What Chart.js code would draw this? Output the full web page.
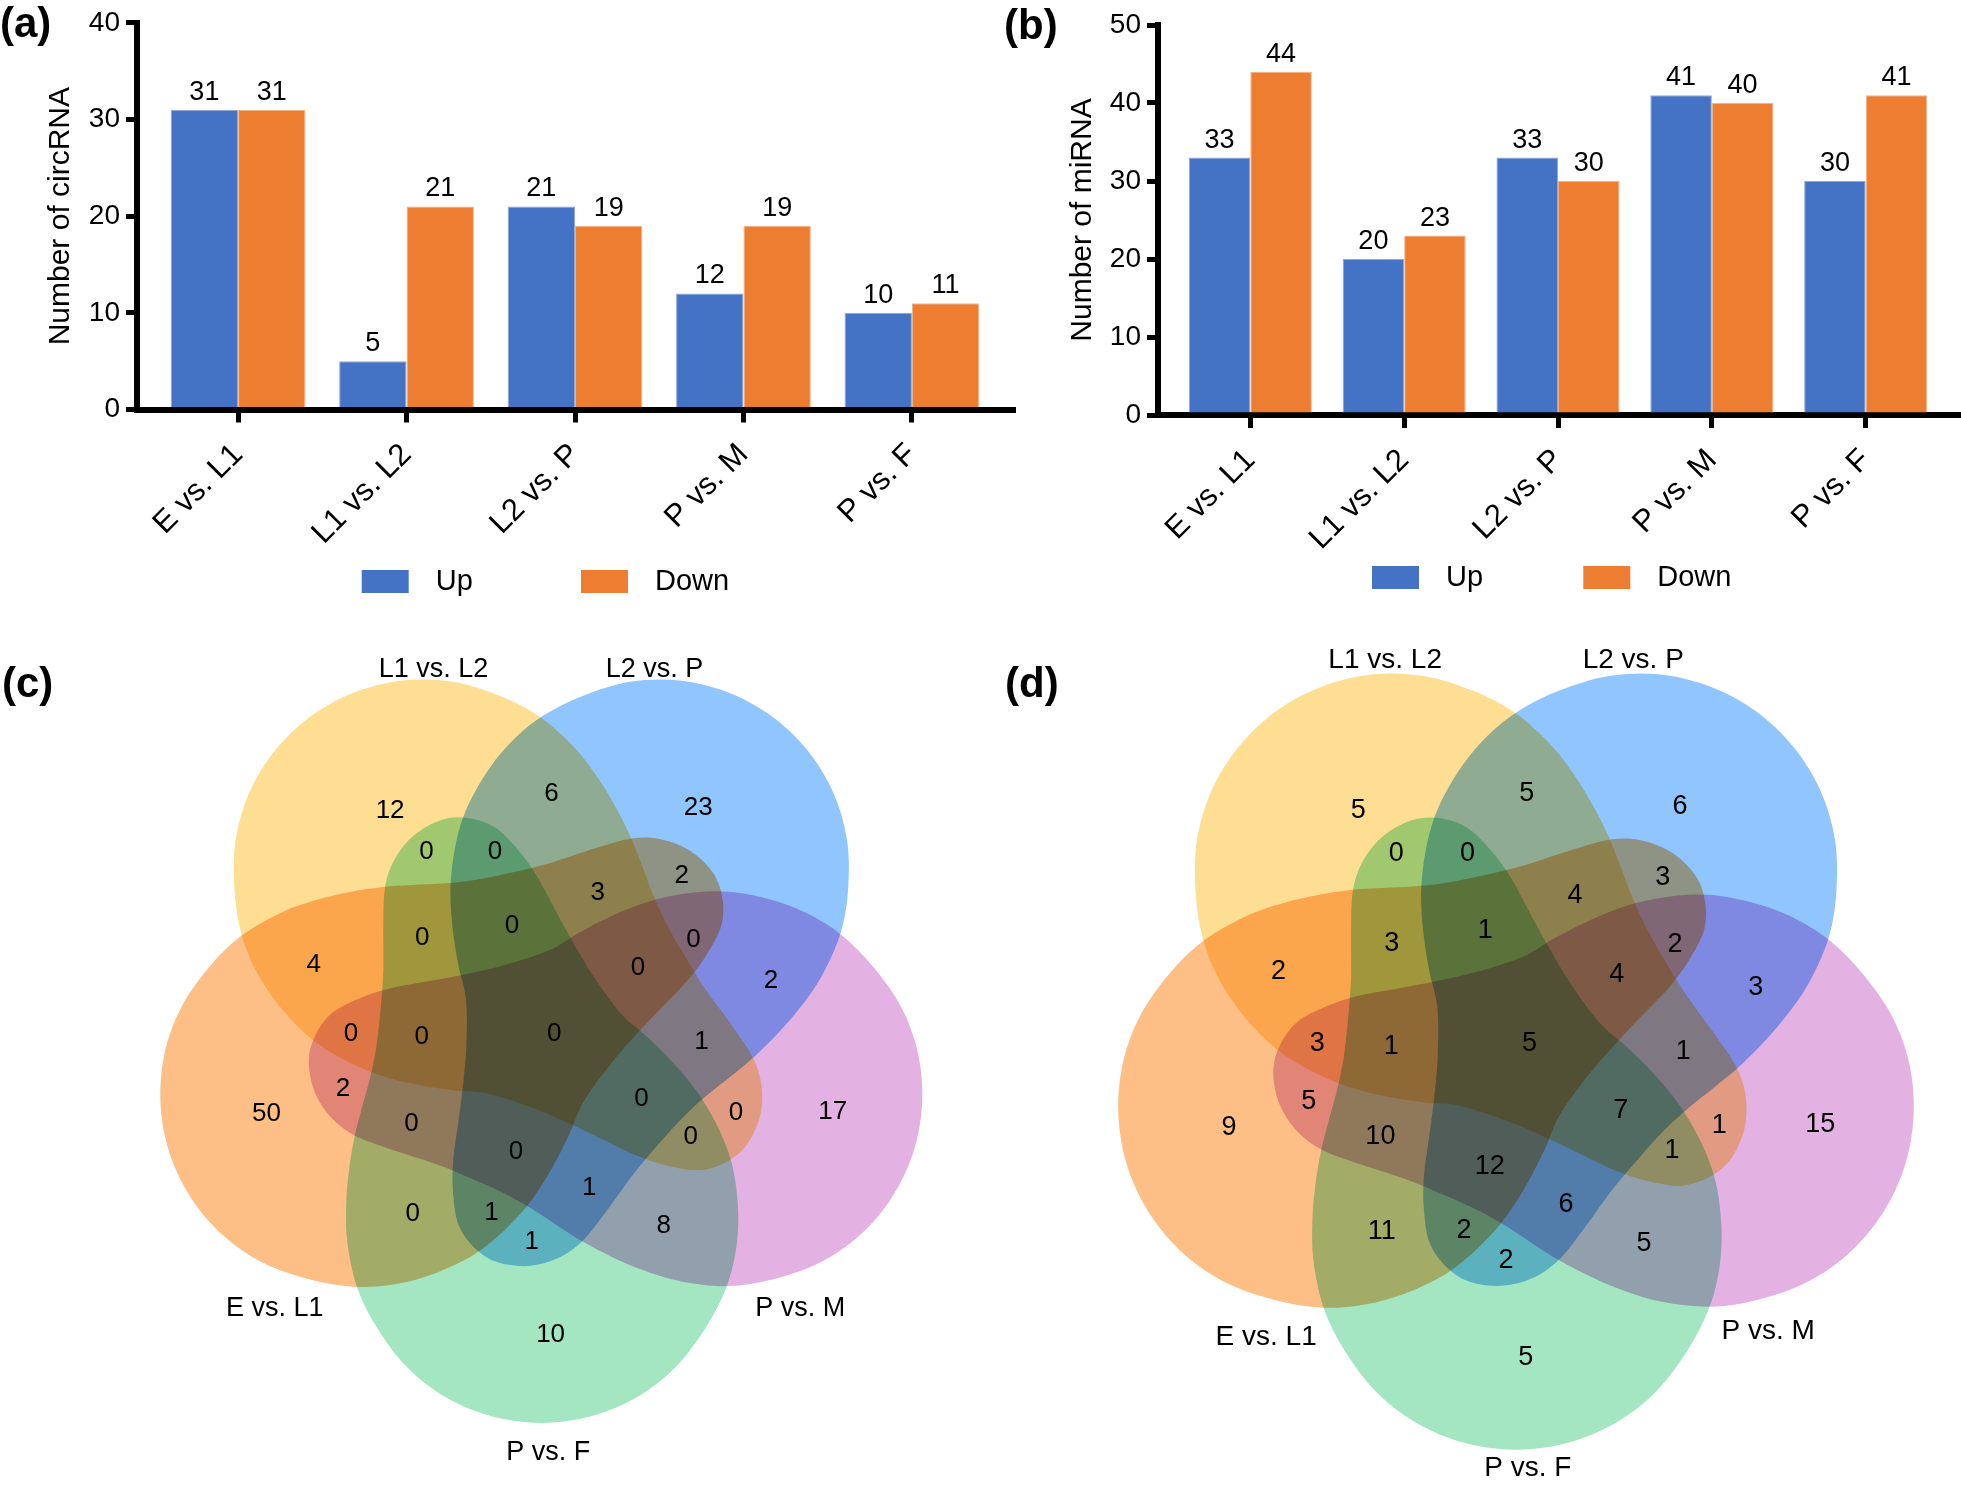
<!DOCTYPE html>
<html><head><meta charset="utf-8">
<script src="https://cdn.jsdelivr.net/npm/chart.js@4.4.1/dist/chart.umd.min.js"></script>
<style>
html,body{margin:0;padding:0;background:#fff;}
body{width:1961px;height:1487px;position:relative;overflow:hidden;}
canvas{position:absolute;display:block;}
</style></head><body>
<canvas id="ca" width="1090" height="620" style="left:0;top:0;width:1090px;height:620px"></canvas>
<canvas id="cb" width="971" height="620" style="left:990px;top:0;width:971px;height:620px"></canvas>
<canvas id="cc" width="980" height="867" style="left:0;top:620px;width:980px;height:867px"></canvas>
<canvas id="cd" width="981" height="867" style="left:980px;top:620px;width:981px;height:867px"></canvas>
<script>
// ---------------- DATA ----------------
const categories = ['E vs. L1','L1 vs. L2','L2 vs. P','P vs. M','P vs. F'];
const circUp   = [31, 5, 21, 12, 10];
const circDown = [31, 21, 19, 19, 11];
const miUp     = [33, 20, 33, 41, 30];
const miDown   = [44, 23, 30, 40, 41];
const seriesNames = ['Up','Down'];

// Venn sets: A=E vs. L1, B=L1 vs. L2, C=L2 vs. P, D=P vs. M, E=P vs. F
const setNames = ['E vs. L1','L1 vs. L2','L2 vs. P','P vs. M','P vs. F'];
const regionKeys = ['A','B','C','D','E',
  'AB','AC','AD','AE','BC','BD','BE','CD','CE','DE',
  'ABC','ABD','ABE','ACD','ACE','ADE','BCD','BCE','BDE','CDE',
  'ABCD','ABCE','ABDE','ACDE','BCDE','ABCDE'];
const circRegionCounts = [50,12,23,17,10, 4,2,2,0,6,0,0,2,1,8, 3,0,0,0,1,0,1,0,0,1, 0,0,0,0,0, 0];
const miRegionCounts   = [9,5,6,15,5, 2,3,5,11,5,1,0,3,2,5, 4,3,3,2,2,10,1,0,1,6, 4,1,1,12,7, 5];

// ---------------- LAYOUT / STYLE ----------------
const FONT = "'Liberation Sans', Arial, Helvetica, sans-serif";
Chart.defaults.font.family = FONT;
Chart.defaults.color = '#000';
const BLUE = '#4472C4', ORANGE = '#ED7D31';

// label anchor of each region, in diagram-local units (centre of the 5-fold pattern = 0,0)
const regionLabelPos = {
  A:[-274.8,80], B:[-151.2,-223.5], C:[157,-226.8], D:[291.5,77.6], E:[9.3,300.4],
  AB:[-227.6,-69.1], AC:[140.5,-158.8], AD:[-198.4,55], AE:[-128.5,180], BC:[10.2,-240],
  BD:[194.7,78.6], BE:[-114.8,-181.9], CD:[229.7,-53.6], CE:[-9.6,207.4], DE:[122.5,191.8],
  ABC:[56.5,-141.8], ABD:[-190.3,-0.3], ABE:[-119.1,-96], ACD:[152.3,-94.6], ACE:[-49.7,178.6],
  ADE:[-129.9,89.4], BCD:[160.3,7.8], BCE:[-46.4,-181.9], BDE:[149.4,102.2], CDE:[48,154.1],
  ABCD:[96.6,-66.3], ABCE:[-29.4,-108.8], ABDE:[-119.6,3], ACDE:[-25.2,117.3], BCDE:[100.3,64.4],
  ABCDE:[13,-0.3]
};
const setColors = ['#FDBF86','#FDDE93','#90C5FD','#E3B2E3','#A3E6C1'];
const setRotation = [72,144,216,288,0];
// outline of one set (the "P vs. F" orientation), diagram-local units
const OUTLINE = [[0,391],[-49,384.5],[-95,365.6],[-134,335.5],[-164,296.3],[-184,256],[-194,210],[-195,170],
 [-192,136],[-187,106],[-180,78],[-171,45],[-165,15],[-161,-20],[-158,-61],[-158,-108],[-156,-146],
 [-146,-174],[-127,-197],[-100,-212],[-74,-214],[-47,-205],[-24,-183],[-5,-157],[14,-122],[31,-91],
 [52,-56],[80,-18],[106,5],[132,31],[156,60],[174,90],[187,120],[194,149],[197,186],[194,222],
 [184,258],[164,296.3],[134,335.5],[95,365.6],[49,384.5]];

function smoothClosed(ctx, pts){
  const n = pts.length;
  ctx.moveTo(pts[0][0], pts[0][1]);
  for (let i=0;i<n;i++){
    const p0=pts[(i-1+n)%n], p1=pts[i], p2=pts[(i+1)%n], p3=pts[(i+2)%n];
    ctx.bezierCurveTo(p1[0]+(p2[0]-p0[0])/6, p1[1]+(p2[1]-p0[1])/6,
                      p2[0]-(p3[0]-p1[0])/6, p2[1]-(p3[1]-p1[1])/6, p2[0], p2[1]);
  }
  ctx.closePath();
}

// ---------------- BAR CHARTS ----------------
const barTextPlugin = {
  id:'barText',
  afterDatasetsDraw(chart, args, opts){
    const ctx = chart.ctx;
    ctx.save();
    ctx.fillStyle = '#000';
    ctx.font = `${opts.valueSize}px ${FONT}`;
    ctx.textAlign = 'center';
    ctx.textBaseline = 'alphabetic';
    chart.data.datasets.forEach((ds, di) => {
      chart.getDatasetMeta(di).data.forEach((bar, i) => {
        ctx.fillText(String(ds.data[i].y), bar.x, bar.y - 10);
      });
    });
    // legend
    ctx.font = `${opts.legendSize}px ${FONT}`;
    ctx.textAlign = 'left';
    ctx.textBaseline = 'middle';
    chart.data.datasets.forEach((ds, di) => {
      const x = opts.legendX[di], y = opts.legendY;
      ctx.fillStyle = ds.backgroundColor;
      ctx.fillRect(x, y, 47, 23);
      ctx.fillStyle = '#000';
      ctx.fillText(ds.label, x + 74, y + 12);
    });
    // panel letter
    ctx.font = `bold 42px ${FONT}`;
    ctx.textBaseline = 'alphabetic';
    ctx.fillText(opts.letter, opts.letterX, opts.letterY);
    ctx.restore();
  }
};

function barChart(id, up, down, cfg){
  new Chart(document.getElementById(id), {
    type:'bar',
    data:{ datasets:[
      {label:seriesNames[0], data:up.map((v,i)=>({x:i,y:v})), backgroundColor:BLUE, borderColor:'#8EA9DB', borderWidth:1, borderSkipped:'bottom'},
      {label:seriesNames[1], data:down.map((v,i)=>({x:i,y:v})), backgroundColor:ORANGE, borderColor:'#F4B183', borderWidth:1, borderSkipped:'bottom'}
    ]},
    options:{
      responsive:false, animation:false, events:[],
      categoryPercentage:0.8, barPercentage:1,
      layout:{padding:cfg.padding},
      plugins:{legend:{display:false}, tooltip:{enabled:false},
        barText:{valueSize:27, legendSize:29, legendX:cfg.legendX, legendY:cfg.legendY, letter:cfg.letter, letterX:cfg.letterX, letterY:cfg.letterY}},
      scales:{
        x:{ type:'linear', min:-0.6, max:categories.length-0.4, offset:false,
            afterBuildTicks:(sc)=>{ sc.ticks = categories.map((c,i)=>({value:i})); },
            afterFit:(sc)=>{ sc.height = 150; },
            ticks:{ autoSkip:false, minRotation:45, maxRotation:45, padding:cfg.xPad,
                    font:{size:31}, color:'#000', callback:(v)=>categories[v] },
            grid:{ offset:false, drawOnChartArea:false, drawTicks:true, tickLength:13, tickWidth:5, tickColor:'#000', color:'#000', lineWidth:5 },
            border:{ display:true, color:'#000', width:6 } },
        y:{ min:0, max:cfg.yMax,
            afterFit:(sc)=>{ sc.width = cfg.yWidth; },
            ticks:{ stepSize:10, font:{size:28}, color:'#000', padding:6 },
            grid:{ drawOnChartArea:false, drawTicks:true, tickLength:11, tickWidth:5, tickColor:'#000', color:'#000', lineWidth:5 },
            border:{ display:true, color:'#000', width:6 },
            title:{ display:true, text:cfg.yTitle, font:{size:30}, color:'#000', padding:{top:cfg.titlePad, bottom:0} } }
      }
    },
    plugins:[barTextPlugin]
  });
}

barChart('ca', circUp, circDown, {
  padding:{left:0, top:18, right:77, bottom:60.5}, yWidth:137, yMax:40, yTitle:'Number of circRNA',
  titlePad:42.6, xPad:14, legendX:[361.7,581], legendY:570, letter:'(a)', letterX:0, letterY:37 });
barChart('cb', miUp, miDown, {
  padding:{left:0, top:25, right:3, bottom:55}, yWidth:168, yMax:50, yTitle:'Number of miRNA',
  titlePad:75, xPad:14, legendX:[382,593.3], legendY:566, letter:'(b)', letterX:14, letterY:39 });

// ---------------- VENN DIAGRAMS ----------------
const vennPlugin = {
  id:'venn',
  beforeDatasetsDraw(chart){
    const {ctx, scales:{x, y}} = chart;
    ctx.save();
    ctx.globalCompositeOperation = 'multiply';
    setColors.forEach((col, i) => {
      const th = setRotation[i]*Math.PI/180, c = Math.cos(th), s = Math.sin(th);
      const pts = OUTLINE.map(([px,py]) => [x.getPixelForValue(px*c - py*s), y.getPixelForValue(px*s + py*c)]);
      ctx.beginPath(); smoothClosed(ctx, pts);
      ctx.fillStyle = col; ctx.fill();
    });
    ctx.restore();
  },
  afterDatasetsDraw(chart, args, opts){
    const ctx = chart.ctx;
    ctx.save();
    ctx.fillStyle = '#000';
    ctx.textAlign = 'center';
    ctx.textBaseline = 'alphabetic';
    const m0 = chart.getDatasetMeta(0), m1 = chart.getDatasetMeta(1);
    ctx.font = `${opts.countSize}px ${FONT}`;
    chart.data.datasets[0].data.forEach((d, i) => {
      const el = m0.data[i];
      ctx.fillText(String(d.v), el.x, el.y + opts.countSize*0.358);
    });
    ctx.font = `${opts.nameSize}px ${FONT}`;
    chart.data.datasets[1].data.forEach((d, i) => {
      const el = m1.data[i];
      ctx.fillText(d.t, el.x, el.y + opts.nameSize*0.358);
    });
    ctx.textAlign = 'left';
    ctx.font = `bold 42px ${FONT}`;
    ctx.fillText(opts.letter, opts.letterX, opts.letterY);
    ctx.restore();
  }
};

function vennChart(id, counts, cfg){
  const cv = document.getElementById(id);
  const W = cv.width, H = cv.height;
  new Chart(cv, {
    type:'scatter',
    data:{ datasets:[
      { label:'regions', pointRadius:0, data: regionKeys.map((k,i)=>({x:regionLabelPos[k][0], y:regionLabelPos[k][1], v:counts[i]})) },
      { label:'sets', pointRadius:0, data: setNames.map((n,i)=>({x:cfg.setLabelPos[i][0], y:cfg.setLabelPos[i][1], t:n})) }
    ]},
    options:{
      responsive:false, animation:false, events:[],
      layout:{padding:0},
      plugins:{legend:{display:false}, tooltip:{enabled:false},
        venn:{countSize:cfg.countSize, nameSize:cfg.nameSize, letter:cfg.letter, letterX:cfg.letterX, letterY:cfg.letterY}},
      scales:{
        x:{ type:'linear', display:false, min:-cfg.cx/cfg.s, max:(W-cfg.cx)/cfg.s },
        y:{ type:'linear', display:false, reverse:true, min:-cfg.cy/cfg.s, max:(H-cfg.cy)/cfg.s }
      }
    },
    plugins:[vennPlugin]
  });
}

vennChart('cc', circRegionCounts, {
  cx:541.3, cy:412, s:1, countSize:26, nameSize:27,
  setLabelPos:[[-266.5,274.4],[-107.8,-364.6],[113.1,-364.6],[259,274.4],[7,418]],
  letter:'(c)', letterX:2, letterY:77 });
vennChart('cd', miRegionCounts, {
  cx:536, cy:421.5, s:1.044, countSize:27, nameSize:28,
  setLabelPos:[[-239.3,280.7],[-125.3,-367.1],[112.3,-367.1],[241.5,275.3],[11.4,406.9]],
  letter:'(d)', letterX:25, letterY:77 });
</script>
</body></html>
